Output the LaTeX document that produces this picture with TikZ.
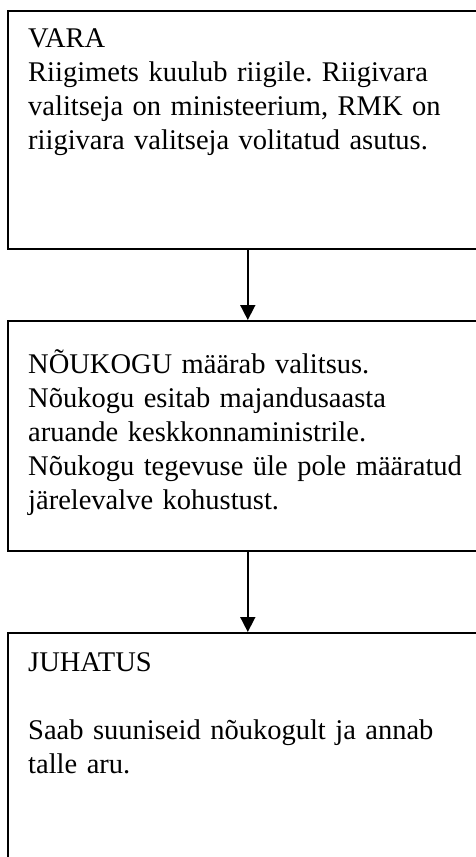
\documentclass[tikz,border=0pt]{standalone}
\usepackage{fontspec}
\setmainfont{Liberation Serif}
\usetikzlibrary{arrows.meta,positioning}
\frenchspacing

\begin{document}
\begin{tikzpicture}[x=1pt,y=-1pt,>={Triangle[width=15pt,length=15pt]},
  box/.style={draw,line width=1.6pt,anchor=north west,minimum width=480pt,inner sep=0pt},
  boxtext/.style={anchor=base west,inner sep=0pt,text width=460pt,align=left,font=\fontsize{28.5}{34}\selectfont}]
\useasboundingbox (0,0) rectangle (476,857);
\clip (0,0) rectangle (476,857);
% the three boxes
\node[box,minimum height=238pt] (vara) at (7,10) {};
\node[box,minimum height=230pt] (noukogu) at (7,320) {};
\node[box,minimum height=260pt] (juhatus) at (7,632) {};
% texts
\node[boxtext] (varatxt) at (28,47) {VARA\\Riigimets kuulub riigile. Riigivara\\valitseja on ministeerium, RMK on\\riigivara valitseja volitatud asutus.};
\node[boxtext] (noukogutxt) at (28,373) {NÕUKOGU määrab valitsus.\\Nõukogu esitab majandusaasta\\aruande keskkonnaministrile.\\Nõukogu tegevuse üle pole määratud\\järelevalve kohustust.};
\node[boxtext] (juhatustxt) at (28,671) {JUHATUS\\[34pt]Saab suuniseid nõukogult ja annab\\talle aru.};
% arrows
\draw[->,line width=1.6pt] (vara.south) -- (noukogu.north);
\draw[->,line width=1.6pt] (noukogu.south) -- (juhatus.north);
\end{tikzpicture}
\end{document}
